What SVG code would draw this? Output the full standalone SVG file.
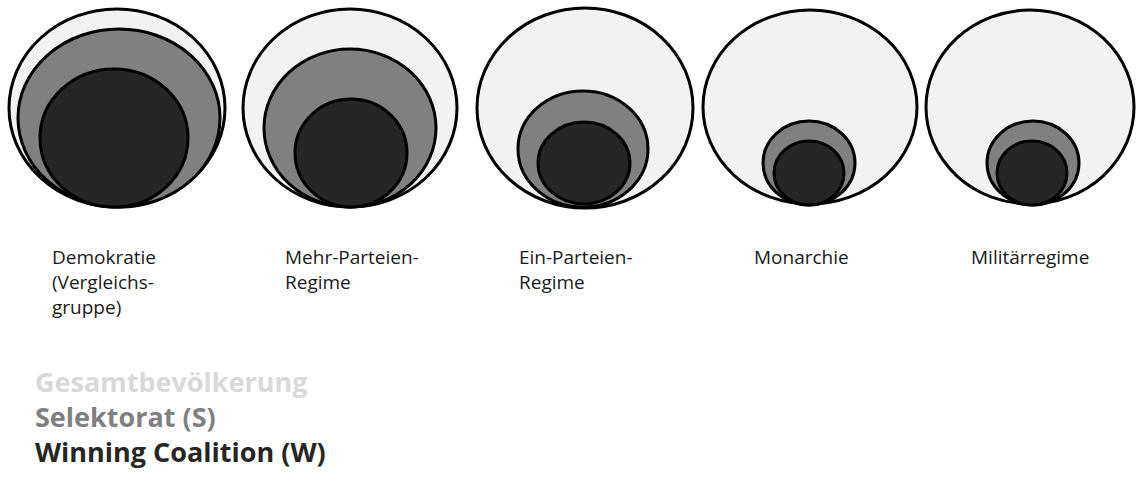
<svg xmlns="http://www.w3.org/2000/svg" width="1136" height="479" viewBox="0 0 1136 479">
<style>
.o{fill:#f2f2f2;stroke:#000;stroke-width:3}
.m{fill:#808080;stroke:#000;stroke-width:3}
.i{fill:#262626;stroke:#000;stroke-width:3}
.lbl{font-family:"Open Sans","Liberation Sans",sans-serif;font-size:19px;fill:#1a1a1a}
.leg{font-family:"Open Sans","Liberation Sans",sans-serif;font-size:27px;font-weight:bold}
</style>
<rect width="1136" height="479" fill="#fff"/>
<g id="demokratie">
<ellipse class="o" cx="117" cy="108" rx="108" ry="99"/>
<ellipse class="m" cx="119" cy="118" rx="101" ry="89"/>
<ellipse class="i" cx="114" cy="138" rx="74" ry="69"/>
<text class="lbl" x="52" y="264">Demokratie</text>
<text class="lbl" x="52" y="289">(Vergleichs-</text>
<text class="lbl" x="52" y="314">gruppe)</text>
</g>
<g id="mehrparteien">
<ellipse class="o" cx="350" cy="108" rx="107" ry="99"/>
<ellipse class="m" cx="350" cy="128" rx="86" ry="79"/>
<ellipse class="i" cx="351" cy="153" rx="56" ry="54"/>
<text class="lbl" x="285" y="264">Mehr-Parteien-</text>
<text class="lbl" x="285" y="289">Regime</text>
</g>
<g id="einparteien">
<ellipse class="o" cx="585" cy="108" rx="108" ry="100"/>
<ellipse class="m" cx="583" cy="149" rx="65" ry="58"/>
<ellipse class="i" cx="584" cy="163" rx="46" ry="41"/>
<text class="lbl" x="519" y="264">Ein-Parteien-</text>
<text class="lbl" x="519" y="289">Regime</text>
</g>
<g id="monarchie">
<ellipse class="o" cx="810" cy="107" rx="107" ry="97"/>
<ellipse class="m" cx="809" cy="163" rx="46" ry="42"/>
<ellipse class="i" cx="809" cy="173" rx="35" ry="32"/>
<text class="lbl" x="754" y="264">Monarchie</text>
</g>
<g id="militaerregime">
<ellipse class="o" cx="1030" cy="107" rx="104" ry="97"/>
<ellipse class="m" cx="1033" cy="163" rx="46" ry="42"/>
<ellipse class="i" cx="1032" cy="173" rx="35" ry="32"/>
<text class="lbl" x="971" y="264">Militärregime</text>
</g>
<g id="legende">
<text class="leg" x="35" y="392" fill="#d9d9d9">Gesamtbevölkerung</text>
<text class="leg" x="35" y="427" fill="#808080">Selektorat (S)</text>
<text class="leg" x="35" y="462" fill="#262626">Winning Coalition (W)</text>
</g>
<g id="connectors"/>
</svg>
